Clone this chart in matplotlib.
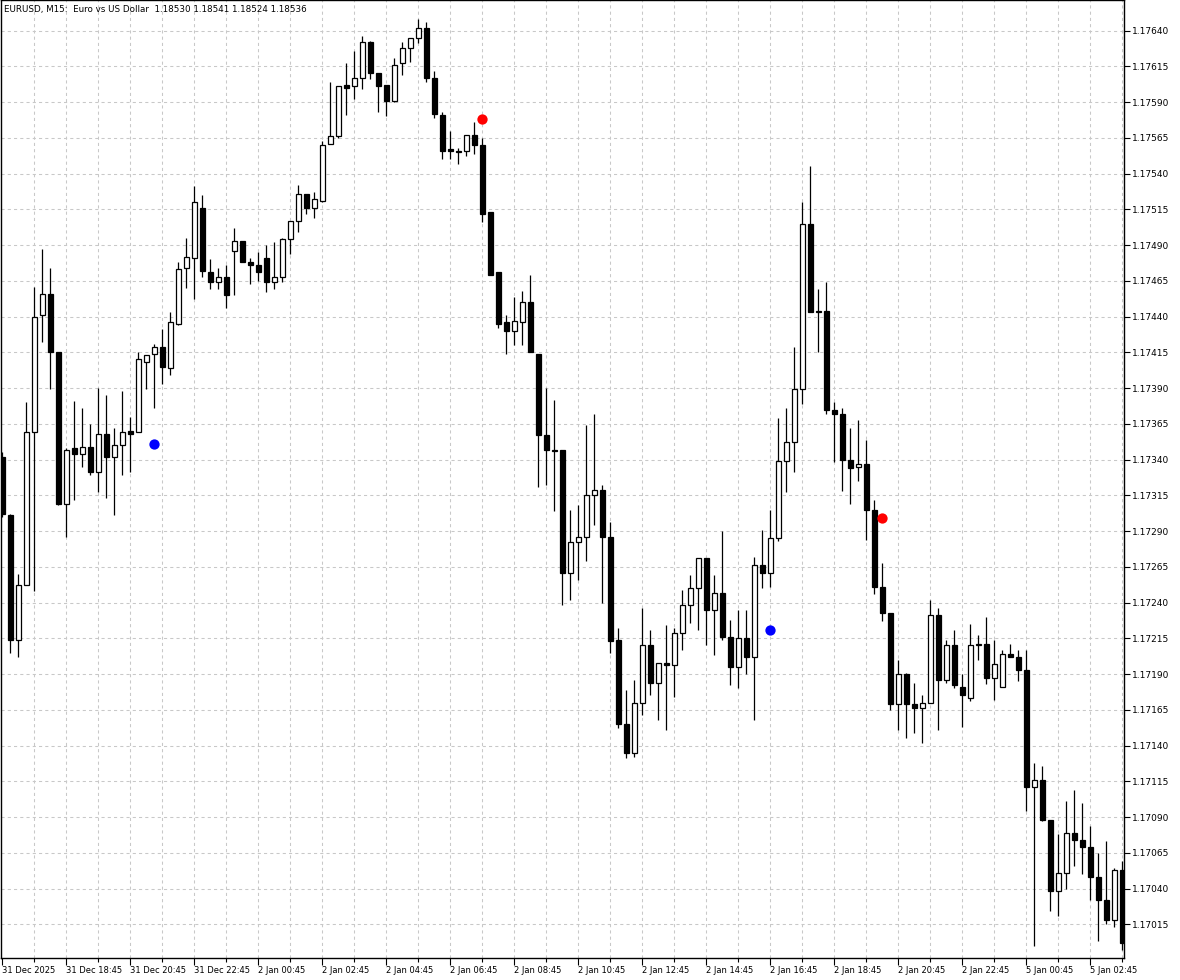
import matplotlib
matplotlib.use("Agg")
import matplotlib.pyplot as plt
import numpy as np

# ---- data (EURUSD M15) ----
opens = [1.17342,1.17301,1.17214,1.17252,1.17359,1.17441,1.17456,1.17415,1.17309,1.17348,
         1.17344,1.17349,1.17331,1.17358,1.17342,1.17350,1.17360,1.17359,1.17408,1.17414,
         1.17419,1.17404,1.17435,1.17474,1.17481,1.17516,1.17471,1.17464,1.17468,1.17486,
         1.17493,1.17478,1.17476,1.17481,1.17464,1.17468,1.17494,1.17507,1.17526,1.17516,
         1.17521,1.17561,1.17566,1.17602,1.17601,1.17607,1.17632,1.17610,1.17602,1.17591,
         1.17617,1.17628,1.17635,1.17642,1.17607,1.17581,1.17557,1.17556,1.17556,1.17567,
         1.17560,1.17513,1.17471,1.17436,1.17430,1.17436,1.17450,1.17414,1.17357,1.17347,
         1.17347,1.17261,1.17282,1.17286,1.17315,1.17319,1.17286,1.17214,1.17155,1.17135,
         1.17170,1.17210,1.17184,1.17198,1.17196,1.17219,1.17238,1.17250,1.17271,1.17235,
         1.17247,1.17216,1.17195,1.17215,1.17202,1.17266,1.17261,1.17285,1.17339,1.17352,
         1.17389,1.17505,1.17444,1.17444,1.17375,1.17372,1.17340,1.17335,1.17337,1.17305,
         1.17251,1.17233,1.17169,1.17190,1.17169,1.17166,1.17170,1.17231,1.17186,1.17210,
         1.17181,1.17173,1.17210,1.17211,1.17187,1.17181,1.17204,1.17202,1.17193,1.17111,
         1.17116,1.17088,1.17038,1.17051,1.17079,1.17074,1.17069,1.17048,1.17032,1.17018,
         1.17053]
highs = [1.17345,1.17302,1.17260,1.17380,1.17461,1.17487,1.17474,1.17415,1.17348,1.17381,
         1.17376,1.17365,1.17390,1.17385,1.17362,1.17388,1.17370,1.17415,1.17413,1.17421,
         1.17431,1.17443,1.17478,1.17495,1.17531,1.17525,1.17480,1.17474,1.17476,1.17502,
         1.17493,1.17481,1.17485,1.17490,1.17492,1.17495,1.17507,1.17532,1.17526,1.17527,
         1.17563,1.17604,1.17601,1.17617,1.17626,1.17636,1.17633,1.17610,1.17602,1.17621,
         1.17632,1.17635,1.17648,1.17646,1.17612,1.17583,1.17570,1.17558,1.17567,1.17576,
         1.17565,1.17513,1.17471,1.17441,1.17454,1.17458,1.17469,1.17414,1.17390,1.17382,
         1.17347,1.17305,1.17308,1.17364,1.17372,1.17322,1.17296,1.17222,1.17179,1.17186,
         1.17236,1.17221,1.17198,1.17224,1.17222,1.17249,1.17259,1.17271,1.17271,1.17259,
         1.17290,1.17228,1.17235,1.17235,1.17272,1.17291,1.17305,1.17369,1.17376,1.17419,
         1.17520,1.17545,1.17459,1.17464,1.17380,1.17376,1.17362,1.17368,1.17354,1.17312,
         1.17268,1.17233,1.17200,1.17191,1.17184,1.17175,1.17242,1.17236,1.17214,1.17221,
         1.17190,1.17225,1.17217,1.17230,1.17214,1.17207,1.17211,1.17207,1.17207,1.17128,
         1.17126,1.17088,1.17078,1.17101,1.17109,1.17100,1.17084,1.17065,1.17073,1.17054,
         1.17059]
lows = [1.17300,1.17205,1.17202,1.17252,1.17248,1.17422,1.17389,1.17308,1.17286,1.17312,
        1.17335,1.17329,1.17317,1.17313,1.17301,1.17329,1.17331,1.17359,1.17389,1.17376,
        1.17393,1.17399,1.17434,1.17460,1.17452,1.17468,1.17459,1.17459,1.17446,1.17455,
        1.17478,1.17463,1.17465,1.17457,1.17459,1.17464,1.17484,1.17499,1.17512,1.17509,
        1.17520,1.17561,1.17565,1.17581,1.17592,1.17599,1.17606,1.17583,1.17580,1.17590,
        1.17609,1.17618,1.17631,1.17604,1.17579,1.17550,1.17550,1.17547,1.17552,1.17554,
        1.17506,1.17469,1.17432,1.17414,1.17420,1.17420,1.17415,1.17321,1.17322,1.17304,
        1.17238,1.17242,1.17256,1.17269,1.17294,1.17240,1.17205,1.17152,1.17131,1.17132,
        1.17161,1.17175,1.17158,1.17151,1.17174,1.17207,1.17226,1.17221,1.17210,1.17203,
        1.17214,1.17182,1.17180,1.17190,1.17158,1.17250,1.17251,1.17283,1.17317,1.17331,
        1.17379,1.17443,1.17415,1.17372,1.17338,1.17318,1.17309,1.17325,1.17284,1.17246,
        1.17227,1.17165,1.17151,1.17145,1.17149,1.17142,1.17170,1.17151,1.17184,1.17180,
        1.17153,1.17171,1.17200,1.17183,1.17172,1.17181,1.17202,1.17185,1.17094,1.17000,
        1.17087,1.17024,1.17021,1.17040,1.17056,1.17050,1.17032,1.17003,1.17015,1.17013,
        1.16997]
closes = [1.17302,1.17214,1.17252,1.17359,1.17440,1.17456,1.17415,1.17309,1.17347,1.17344,
          1.17349,1.17331,1.17358,1.17342,1.17350,1.17359,1.17358,1.17410,1.17413,1.17419,
          1.17405,1.17436,1.17473,1.17482,1.17520,1.17472,1.17464,1.17468,1.17455,1.17493,
          1.17478,1.17476,1.17471,1.17464,1.17468,1.17494,1.17507,1.17526,1.17516,1.17522,
          1.17560,1.17566,1.17601,1.17600,1.17607,1.17632,1.17610,1.17601,1.17591,1.17616,
          1.17628,1.17635,1.17642,1.17607,1.17582,1.17556,1.17556,1.17555,1.17567,1.17560,
          1.17512,1.17469,1.17435,1.17430,1.17437,1.17450,1.17415,1.17357,1.17347,1.17346,
          1.17261,1.17282,1.17286,1.17315,1.17319,1.17286,1.17213,1.17155,1.17135,1.17170,
          1.17210,1.17184,1.17198,1.17196,1.17219,1.17238,1.17250,1.17271,1.17235,1.17247,
          1.17216,1.17195,1.17215,1.17202,1.17266,1.17261,1.17285,1.17339,1.17352,1.17389,
          1.17505,1.17443,1.17443,1.17375,1.17372,1.17340,1.17334,1.17337,1.17305,1.17251,
          1.17233,1.17169,1.17190,1.17169,1.17166,1.17170,1.17231,1.17186,1.17210,1.17182,
          1.17175,1.17210,1.17211,1.17187,1.17197,1.17204,1.17202,1.17193,1.17111,1.17116,
          1.17088,1.17038,1.17051,1.17079,1.17074,1.17069,1.17048,1.17032,1.17018,1.17053,
          1.17002]

# signal dots (bar index, price)
sell_idx = [60, 110]
sell_price = [1.17578, 1.17299]
buy_idx = [19, 96]
buy_price = [1.17351, 1.17221]

time_labels = ["31 Dec 2025", "31 Dec 18:45", "31 Dec 20:45", "31 Dec 22:45",
               "2 Jan 00:45", "2 Jan 02:45", "2 Jan 04:45", "2 Jan 06:45",
               "2 Jan 08:45", "2 Jan 10:45", "2 Jan 12:45", "2 Jan 14:45",
               "2 Jan 16:45", "2 Jan 18:45", "2 Jan 20:45", "2 Jan 22:45",
               "5 Jan 00:45", "5 Jan 02:45"]
price_ticks = [1.17015 + 0.00025 * i for i in range(26)]
title = "EURUSD, M15:  Euro vs US Dollar  1.18530 1.18541 1.18524 1.18536"

# ---- figure ----
W, H = 1180, 980
fig = plt.figure(figsize=(W / 100, H / 100), dpi=100)
fig.patch.set_facecolor("white")
ax = fig.add_axes([0.5 / W, 22 / H, 1123.5 / W, 958 / H])
ax.set_facecolor("white")

o = np.array(opens); h = np.array(highs); l = np.array(lows); c = np.array(closes)
x = np.arange(len(o))

ax.set_xlim(-0.225, 140.21)
ax.set_ylim(1.169914, 1.176614)

# grid
grid_kw = dict(color="#c8c8c8", lw=0.75, ls=(0, (3, 3)), zorder=0)
for k in range(4, len(o), 4):
    ax.axvline(k, **grid_kw)
for p in price_ticks:
    ax.axhline(p, **grid_kw)

# wicks
ax.vlines(x, l, h, color="black", lw=0.9, zorder=2)
# bodies
bottom = np.minimum(o, c)
height = np.abs(c - o)
up = c >= o
ax.bar(x[up], height[up], bottom=bottom[up], width=0.56, color="white",
       edgecolor="black", linewidth=0.9, zorder=3)
ax.bar(x[~up], height[~up], bottom=bottom[~up], width=0.56, color="black",
       edgecolor="black", linewidth=0.9, zorder=3)

# signal dots
ax.scatter(sell_idx, sell_price, s=55, color="#ff0000", zorder=5, linewidths=0)
ax.scatter(buy_idx, buy_price, s=55, color="#0000ff", zorder=5, linewidths=0)

# axes
ax.yaxis.tick_right()
ax.set_yticks(price_ticks)
ax.set_yticklabels([f"{p:.5f}" for p in price_ticks])
ax.tick_params(axis="y", direction="out", length=4, width=0.8, labelsize=6.5,
               pad=2, colors="black")
ax.set_xticks(list(range(0, 8 * len(time_labels), 8)))
ax.set_xticklabels(time_labels, ha="left")
ax.set_xticks(list(range(4, len(o), 8)), minor=True)
ax.tick_params(axis="x", which="major", direction="out", length=5, width=0.8,
               labelsize=6, pad=1)
ax.tick_params(axis="x", which="minor", direction="out", length=3, width=0.8)
for s in ax.spines.values():
    s.set_color("black")
    s.set_linewidth(1.0)

fig.text(4 / W, 1 - 9.5 / H, title, fontsize=6.3, va="center", ha="left", color="black")

fig.savefig("out.png", dpi=100, facecolor="white")
